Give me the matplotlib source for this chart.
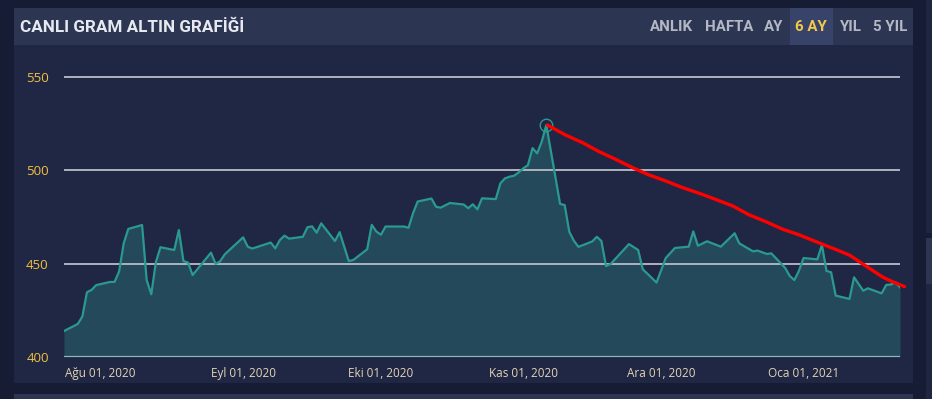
import matplotlib
matplotlib.use("Agg")
import matplotlib.pyplot as plt
import pandas as pd
from matplotlib.patches import Rectangle

# ---------------- data ----------------
dates = [
    "2020-07-24", "2020-07-27", "2020-07-28", "2020-07-29", "2020-07-30", "2020-07-31",
    "2020-08-03", "2020-08-04", "2020-08-05", "2020-08-06", "2020-08-07", "2020-08-10",
    "2020-08-11", "2020-08-12", "2020-08-13", "2020-08-14", "2020-08-17", "2020-08-18",
    "2020-08-19", "2020-08-20", "2020-08-21", "2020-08-25", "2020-08-26", "2020-08-27",
    "2020-08-28", "2020-09-01", "2020-09-02", "2020-09-03", "2020-09-07", "2020-09-08",
    "2020-09-09", "2020-09-10", "2020-09-11", "2020-09-14", "2020-09-15", "2020-09-16",
    "2020-09-17", "2020-09-18", "2020-09-21", "2020-09-22", "2020-09-24", "2020-09-25",
    "2020-09-28", "2020-09-29", "2020-09-30", "2020-10-01", "2020-10-02", "2020-10-06",
    "2020-10-07", "2020-10-08", "2020-10-09", "2020-10-12", "2020-10-13", "2020-10-14",
    "2020-10-16", "2020-10-19", "2020-10-20", "2020-10-21", "2020-10-22", "2020-10-23",
    "2020-10-26", "2020-10-27", "2020-10-28", "2020-10-29", "2020-10-30", "2020-10-31",
    "2020-11-01", "2020-11-02", "2020-11-03", "2020-11-04", "2020-11-05", "2020-11-06",
    "2020-11-09", "2020-11-10", "2020-11-11", "2020-11-12", "2020-11-13", "2020-11-16",
    "2020-11-17", "2020-11-18", "2020-11-19", "2020-11-20", "2020-11-24", "2020-11-26",
    "2020-11-27", "2020-11-30", "2020-12-02", "2020-12-04", "2020-12-07", "2020-12-08",
    "2020-12-09", "2020-12-11", "2020-12-14", "2020-12-17", "2020-12-18", "2020-12-21",
    "2020-12-22", "2020-12-23", "2020-12-24", "2020-12-25", "2020-12-28", "2020-12-29",
    "2020-12-30", "2020-12-31", "2021-01-01", "2021-01-04", "2021-01-05", "2021-01-06",
    "2021-01-07", "2021-01-08", "2021-01-11", "2021-01-12", "2021-01-14", "2021-01-15",
    "2021-01-18", "2021-01-19", "2021-01-20", "2021-01-21", "2021-01-22",
]
prices = [
    413.9, 417.7, 421.7, 434.7, 435.9, 438.5,
    440.2, 440.2, 445.8, 460.9, 468.6, 470.7,
    441.2, 433.6, 450.8, 458.8, 457.3, 468.0,
    451.4, 450.6, 443.9, 455.9, 449.9, 451.3,
    455.0, 464.1, 459.1, 458.1, 461.3, 458.2,
    462.7, 465.0, 463.4, 464.4, 469.5, 470.0,
    466.6, 471.6, 462.1, 466.9, 451.4, 452.0,
    457.7, 470.8, 467.2, 465.5, 469.9, 469.9,
    469.2, 477.1, 483.3, 484.9, 480.5, 480.0,
    482.5, 481.7, 479.7, 481.8, 479.1, 485.0,
    484.6, 493.0, 495.7, 496.6, 497.1, 498.9,
    501.1, 502.8, 511.9, 509.1, 515.3, 524.3,
    482.0, 481.4, 467.1, 462.3, 459.0, 461.9,
    464.4, 462.1, 448.7, 449.8, 460.5, 457.3,
    447.0, 439.9, 453.0, 458.4, 459.1, 467.3,
    459.6, 462.0, 459.1, 466.3, 460.9, 456.6,
    457.0, 456.1, 455.2, 455.5, 447.7, 443.4,
    441.2, 446.2, 453.0, 452.3, 460.0, 446.1,
    445.4, 432.9, 431.1, 442.7, 435.5, 436.8,
    434.1, 438.6, 438.8, 440.0, 437.3,
]
peak_date = "2020-11-06"
peak_value = 524.3

# hand-drawn red trend line (days after trend_origin, value)
trend_origin = "2020-08-01"
trend_days = [97.2, 101.2, 104.9, 108.5, 112.1, 115.8, 119.4, 123.0, 126.7, 130.3,
              133.9, 137.6, 141.2, 144.8, 148.5, 152.1, 155.7, 159.4, 163.0, 165.2,
              166.6, 170.3, 172.4, 175.0]
trend_values = [524.3, 518.9, 514.8, 510.0, 505.9, 501.4, 497.5, 494.3, 490.7, 487.7,
                484.4, 480.9, 476.1, 472.5, 468.4, 465.4, 461.8, 458.2, 454.6, 451.0,
                448.7, 442.7, 440.3, 437.7]

y_ticks = [400, 450, 500, 550]
x_tick_dates = ["2020-08-01", "2020-09-01", "2020-10-01", "2020-11-01", "2020-12-01", "2021-01-01"]
x_tick_labels = ["Ağu 01, 2020", "Eyl 01, 2020", "Eki 01, 2020", "Kas 01, 2020", "Ara 01, 2020", "Oca 01, 2021"]
title = "CANLI GRAM ALTIN GRAFİĞİ"
tabs = ["ANLIK", "HAFTA", "AY", "6 AY", "YIL", "5 YIL"]
active_tab = "6 AY"

# ---------------- layout ----------------
W, H = 932, 399
fig = plt.figure(figsize=(W / 100, H / 100), dpi=100)
fig.patch.set_facecolor("#151c33")


def prect(x, y, w, h, color, z=0):
    fig.add_artist(Rectangle((x / W, 1 - (y + h) / H), w / W, h / H,
                             transform=fig.transFigure, facecolor=color,
                             edgecolor="none", zorder=z))


# card body + header
prect(14, 8, 899, 375, "#1f2744")
prect(14, 8, 899, 37, "#2c3552")
# bottom panel & right panels
prect(14, 394, 899, 10, "#2c3552")
prect(926, 0, 10, 233, "#1e2642")
prect(926, 238, 10, 46, "#2c3552")
prect(926, 284, 10, 120, "#1e2642")

# active tab background
prect(790, 8, 43, 37, "#374369", z=1)

fig.text(20 / W, 1 - 27 / H, title, color="#e6e9f0", fontsize=12.3,
         fontweight="bold", family=["Roboto", "DejaVu Sans"], va="center", ha="left")

tab_centers = [672, 729, 774, 811, 850, 890]
for t, cx in zip(tabs, tab_centers):
    fig.text(cx / W, 1 - 27 / H, t,
             color="#f2c94c" if t == active_tab else "#b4b8c4",
             fontsize=10.8, fontweight="bold", family=["Roboto", "DejaVu Sans"],
             va="center", ha="center", zorder=2)

# plot area
x0, x1, ytop, ybot = 64, 900, 60, 357
ax = fig.add_axes([x0 / W, 1 - ybot / H, (x1 - x0) / W, (ybot - ytop) / H])
ax.set_facecolor("none")

d = pd.to_datetime(dates)
ax.set_xlim(pd.Timestamp("2020-07-24"), pd.Timestamp("2021-01-22"))
ymin = 400
ymax = 400 + (ybot - ytop) / ((ybot - 77) / 150)
ax.set_ylim(ymin, ymax)

ax.fill_between(d, prices, ymin, color="#23495b", zorder=1, linewidth=0)
for yv in y_ticks[1:]:
    ax.axhline(yv, color="#aeb2bf", lw=1.4, zorder=2)
ax.axhline(400, color="#9ab4bd", lw=1.6, zorder=2)
ax.plot(d, prices, color="#2a9a8f", lw=1.6, zorder=3)

ax.plot([pd.Timestamp(peak_date)], [peak_value], marker="o", ms=9, mfc="none",
        mec="#2a9a8f", mew=1.0, zorder=4)

td = pd.Timestamp(trend_origin) + pd.to_timedelta(trend_days, unit="D")
ax.plot(td, trend_values, color="#ff0000", lw=2.4, zorder=5, clip_on=False,
        solid_capstyle="round")

ax.set_yticks(y_ticks)
ax.set_yticklabels([str(v) for v in y_ticks])
ax.set_xticks(pd.to_datetime(x_tick_dates))
ax.set_xticklabels(x_tick_labels)
ax.tick_params(axis="y", length=0, pad=11, labelsize=9.5, labelcolor="#f2c040")
ax.tick_params(axis="x", length=0, pad=7, labelsize=8.5, labelcolor="#e3d4b4")
for lab in ax.get_xticklabels() + ax.get_yticklabels():
    lab.set_family(["Open Sans", "DejaVu Sans"])
for s in ax.spines.values():
    s.set_visible(False)
ax.grid(False)

fig.savefig("out.png", dpi=100, facecolor=fig.get_facecolor())
